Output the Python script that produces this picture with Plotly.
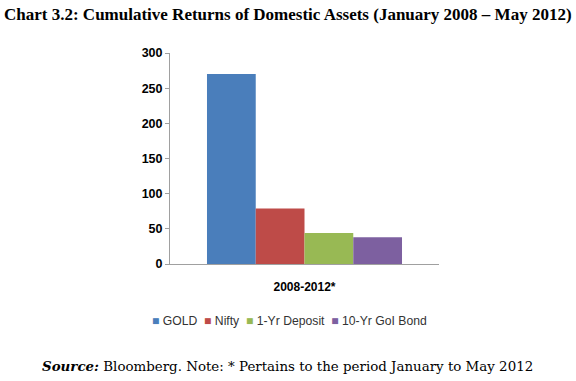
import plotly.graph_objects as go

categories = ["2008-2012*"]
series_names = ["GOLD", "Nifty", "1-Yr Deposit", "10-Yr GoI Bond"]
series_values = [[270], [79], [44], [38]]
colors = ["#4a7ebb", "#be4b48", "#98b954", "#7d60a0"]
y_ticks = [0, 50, 100, 150, 200, 250, 300]

W, H = 576, 381
PL, PR, PT, PB = 170, 439, 53, 264  # plot area in window pixels
L, T, R, B = PL, PT, W - PR, H - PB
PW, PH = PR - PL, PB - PT


def px_x(px):
    return (px - PL) / PW


def px_y(py):
    return (PB - py) / PH


fig = go.Figure()
for name, vals, col in zip(series_names, series_values, colors):
    fig.add_trace(go.Bar(x=categories, y=vals, name=name,
                         marker=dict(color=col, line=dict(width=0))))

legend_text = "&nbsp;&nbsp;".join(
    f"<span style='color:{c}'>■</span> {n}" for n, c in zip(series_names, colors)
)

fig.update_layout(
    width=W, height=H,
    margin=dict(l=L, r=R, t=T, b=B),
    paper_bgcolor="white", plot_bgcolor="white",
    barmode="group", bargap=0.275, bargroupgap=0,
    showlegend=False,
    xaxis=dict(showline=True, linecolor="#a0a0a0", linewidth=1, ticks="",
               ticklabelstandoff=12,
               tickfont=dict(family="Liberation Sans", size=12, color="#000000", weight="bold")),
    yaxis=dict(range=[0, 300], tickvals=y_ticks, showgrid=False, zeroline=False,
               showline=True, linecolor="#a0a0a0", linewidth=1,
               ticks="outside", ticklen=4, tickcolor="#a0a0a0",
               tickfont=dict(family="Liberation Sans", size=12.5, color="#000000", weight="bold")),
    annotations=[
        dict(text="<b>Chart 3.2: Cumulative Returns of Domestic Assets (January 2008 – May 2012)</b>",
             xref="paper", yref="paper", x=px_x(288), y=px_y(15),
             xanchor="center", yanchor="middle", showarrow=False,
             font=dict(family="Liberation Serif", size=17, color="#000000")),
        dict(text=legend_text,
             xref="paper", yref="paper", x=px_x(289.5), y=px_y(321),
             xanchor="center", yanchor="middle", showarrow=False,
             font=dict(family="Liberation Sans", size=12.2, color="#333333")),
        dict(text="<b><i>Source:</i></b> Bloomberg. Note: * Pertains to the period January to May 2012",
             xref="paper", yref="paper", x=px_x(287.5), y=px_y(366),
             xanchor="center", yanchor="middle", showarrow=False,
             font=dict(family="DejaVu Serif", size=13.4, color="#000000")),
    ],
)

fig.write_html("out.html", config={"displayModeBar": False},
               post_script="document.body.style.margin='0';")
